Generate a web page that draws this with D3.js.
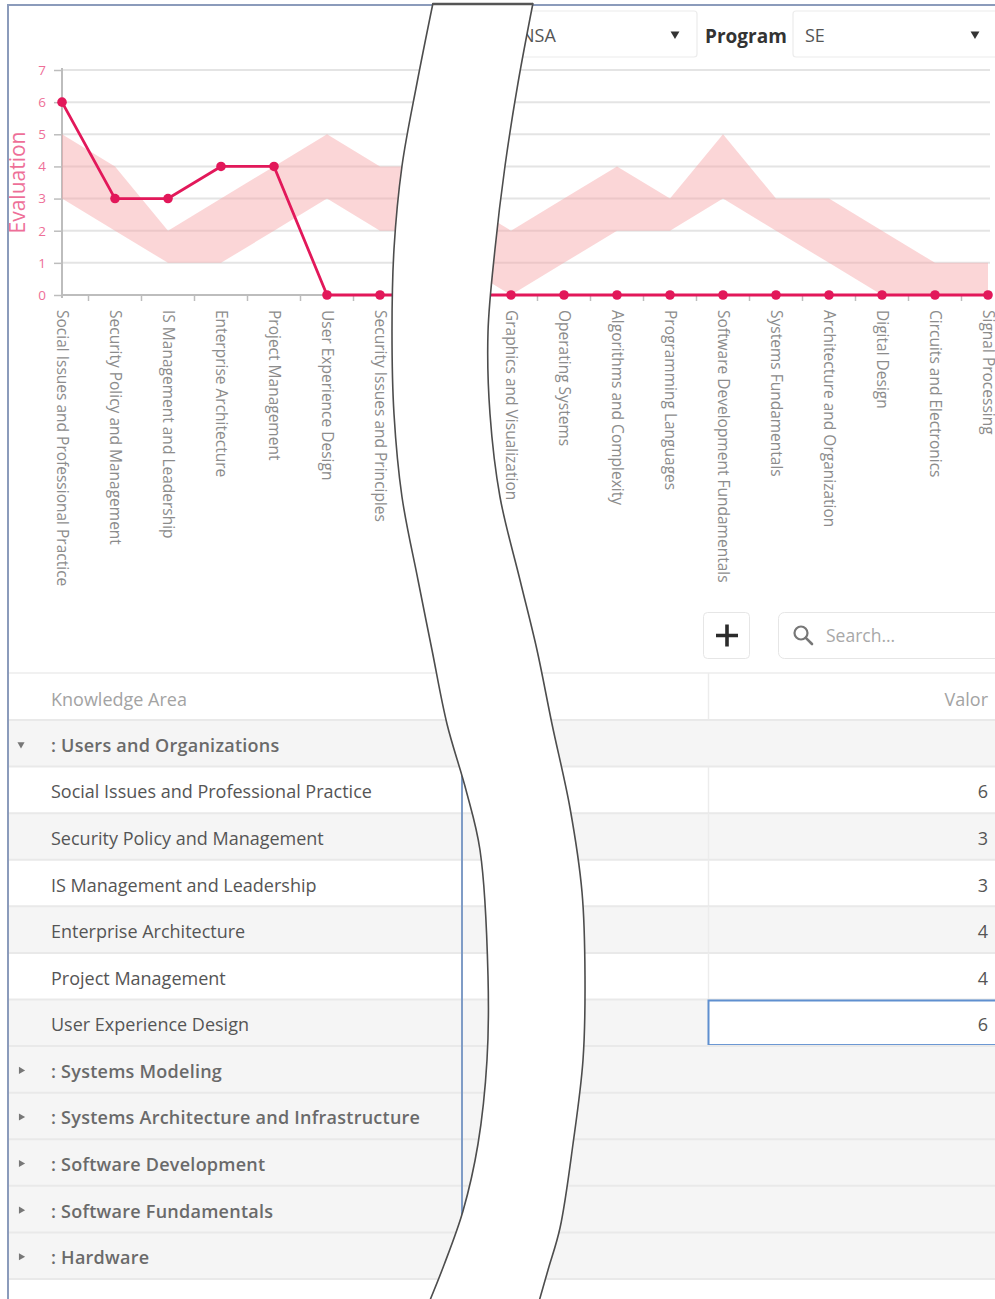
<!DOCTYPE html>
<html>
<head>
<meta charset="utf-8">
<script src="https://cdn.jsdelivr.net/npm/d3@7"></script>
<style>
  html, body { margin: 0; padding: 0; background: #fff; }
  svg { display: block; font-family: "Open Sans", "Noto Sans", sans-serif; }
</style>
</head>
<body>
<svg id="view" width="995" height="1299"></svg>
<script>
// ---- Knowledge areas shown on the left part of the chart ----
const leftAreas = [
  "Social Issues and Professional Practice",
  "Security Policy and Management",
  "IS Management and Leadership",
  "Enterprise Architecture",
  "Project Management",
  "User Experience Design",
  "Security Issues and Principles"
];
const leftEval = [6, 3, 3, 4, 4, 0, 0];
const leftMin  = [3, 2, 1, 1, 2, 3, 2];
const leftMax  = [5, 4, 2, 3, 4, 5, 4];

// ---- Knowledge areas shown on the right part of the chart ----
const rightAreas = [
  "Graphics and Visualization",
  "Operating Systems",
  "Algorithms and Complexity",
  "Programming Languages",
  "Software Development Fundamentals",
  "Systems Fundamentals",
  "Architecture and Organization",
  "Digital Design",
  "Circuits and Electronics",
  "Signal Processing"
];
const rightEval = [0, 0, 0, 0, 0, 0, 0, 0, 0, 0];
const rightMin  = [0, 1, 2, 2, 3, 2, 1, 0, 0, 0];
const rightMax  = [2, 3, 4, 3, 5, 3, 3, 2, 1, 1];

// neighbouring areas that run into the torn edge (only their slope shows)
const leftEdgeMin = 2, leftEdgeMax = 4, leftEdgeEval = 0;
const rightEdgeMin = 1, rightEdgeMax = 3, rightEdgeEval = 0;

const yTicks = [0, 1, 2, 3, 4, 5, 6, 7];

// ---- Grid (tree table) ----
const groupNames = [
  "Users and Organizations",
  "Systems Modeling",
  "Systems Architecture and Infrastructure",
  "Software Development",
  "Software Fundamentals",
  "Hardware"
];
const tableAreas  = leftAreas.slice(0, 6);
const tableValues = [6, 3, 3, 4, 4, 6];

// ---- colours ----
const RED = "#e2185a";
const BAND = "#f6a3a6";
const PINK_TEXT = "#ee6f98";
const GRID = "#e4e4e4";
const AXIS = "#bdbdbd";
const LABEL = "#8c8c8c";

const svg = d3.select("#view");

// ============ chart ============
const y = d3.scaleLinear().domain([0, 7]).range([295, 70]);
const xLeft  = d3.scaleLinear().domain([0, 1]).range([62, 115]);
const xRight = d3.scaleLinear().domain([0, 1]).range([511, 564]);

const chart = svg.append("g");

// horizontal grid lines
chart.append("g")
  .selectAll("line").data(yTicks.filter(t => t > 0)).join("line")
  .attr("x1", 62).attr("x2", xRight(rightAreas.length - 1) + 2)
  .attr("y1", d => y(d)).attr("y2", d => y(d))
  .attr("stroke", GRID).attr("stroke-width", 2);

// y axis
const yAxis = chart.append("g").attr("transform", "translate(62,0)")
  .call(d3.axisLeft(y).tickValues(yTicks).tickFormat(d3.format("d")).tickSize(8).tickPadding(8));
yAxis.select(".domain").attr("stroke", AXIS).attr("stroke-width", 2)
  .attr("d", `M0,${y(7) - 2}V${y(0) + 3}`);
yAxis.selectAll(".tick line").attr("stroke", AXIS).attr("stroke-width", 1.5);
yAxis.selectAll(".tick text").attr("fill", PINK_TEXT)
  .attr("font-size", 13.5).attr("font-family", "Open Sans, sans-serif");

// y title
chart.append("text")
  .attr("transform", `translate(25,${y(3.5)}) rotate(-90)`)
  .attr("text-anchor", "middle")
  .attr("fill", PINK_TEXT).attr("font-size", 21)
  .text("Evaluation");

// x baseline
chart.append("line")
  .attr("x1", 62).attr("x2", xRight(rightAreas.length - 1))
  .attr("y1", y(0)).attr("y2", y(0))
  .attr("stroke", AXIS).attr("stroke-width", 2);

function drawPart(x, areas, evals, mins, maxs, edge) {
  const g = chart.append("g");
  const pts = areas.map((a, i) => ({ i, a, v: evals[i], lo: mins[i], hi: maxs[i] }));
  const full = pts.slice();
  if (edge.side === "after") full.push({ i: areas.length, v: edge.v, lo: edge.lo, hi: edge.hi });
  else full.unshift({ i: -1, v: edge.v, lo: edge.lo, hi: edge.hi });

  // category ticks between areas
  const tickIdx = d3.range(-1, areas.length).map(i => i + 0.5)
    .filter(t => t > 0 || edge.side === "before");
  g.append("g").selectAll("line").data(tickIdx).join("line")
    .attr("x1", d => x(d)).attr("x2", d => x(d))
    .attr("y1", y(0)).attr("y2", y(0) + 6)
    .attr("stroke", AXIS).attr("stroke-width", 1.5);

  // min-max range band
  g.append("path").datum(full)
    .attr("d", d3.area().x(d => x(d.i)).y0(d => y(d.lo)).y1(d => y(d.hi)))
    .attr("fill", BAND).attr("fill-opacity", 0.45);

  // evaluation line
  g.append("path").datum(full)
    .attr("d", d3.line().x(d => x(d.i)).y(d => y(d.v)))
    .attr("fill", "none").attr("stroke", RED).attr("stroke-width", 2.8)
    .attr("stroke-linejoin", "round");

  g.append("g").selectAll("circle").data(pts).join("circle")
    .attr("cx", d => x(d.i)).attr("cy", d => y(d.v)).attr("r", 4.8)
    .attr("fill", RED);

  // rotated category labels
  g.append("g").selectAll("text").data(pts).join("text")
    .attr("transform", d => `translate(${x(d.i)},${y(0) + 15}) rotate(90)`)
    .attr("dy", "0.35em")
    .attr("fill", LABEL).attr("font-size", 15.5)
    .text(d => d.a);
}

drawPart(xLeft, leftAreas, leftEval, leftMin, leftMax,
  { side: "after", v: leftEdgeEval, lo: leftEdgeMin, hi: leftEdgeMax });
drawPart(xRight, rightAreas, rightEval, rightMin, rightMax,
  { side: "before", v: rightEdgeEval, lo: rightEdgeMin, hi: rightEdgeMax });

// ============ filter bar ============
const bar = svg.append("g");
function dropdown(x0, x1, label) {
  bar.append("rect").attr("x", x0).attr("y", 11).attr("width", x1 - x0).attr("height", 46)
    .attr("rx", 3).attr("fill", "#fff").attr("stroke", "#ececec").attr("stroke-width", 1.2);
  bar.append("text").attr("x", label.x).attr("y", 42)
    .attr("fill", "#555").attr("font-size", 18).text(label.t);
  bar.append("path")
    .attr("d", d3.symbol(d3.symbolTriangle, 34)())
    .attr("transform", `translate(${label.arrow},34) rotate(180)`)
    .attr("fill", "#333");
}
dropdown(470, 697, { x: 521, t: "NSA", arrow: 675 });
bar.append("text").attr("x", 705).attr("y", 43)
  .attr("fill", "#333").attr("font-size", 19).attr("font-weight", 700).text("Program");
dropdown(793, 1010, { x: 805, t: "SE", arrow: 975 });

// ============ toolbar ============
const tb = svg.append("g");
tb.append("rect").attr("x", 703.5).attr("y", 612.5).attr("width", 46).attr("height", 46)
  .attr("rx", 4).attr("fill", "#fff").attr("stroke", "#e6e6e6");
tb.append("path").attr("d", "M716,635.5H738M727,624.5V646.5")
  .attr("stroke", "#2b2b2b").attr("stroke-width", 3.6);
tb.append("rect").attr("x", 778.5).attr("y", 612.5).attr("width", 240).attr("height", 46)
  .attr("rx", 6).attr("fill", "#fff").attr("stroke", "#e6e6e6");
tb.append("circle").attr("cx", 801).attr("cy", 633).attr("r", 6.5)
  .attr("fill", "none").attr("stroke", "#777").attr("stroke-width", 2.2);
tb.append("path").attr("d", "M805.8,637.8L812,644").attr("stroke", "#777").attr("stroke-width", 2.6)
  .attr("stroke-linecap", "round");
tb.append("text").attr("x", 826).attr("y", 642).attr("fill", "#a8a8a8").attr("font-size", 17.5)
  .text("Search...");

// ============ tree grid ============
const rows = [{ type: "group", name: groupNames[0], open: true }]
  .concat(tableAreas.map((n, i) => ({ type: "item", name: n, value: tableValues[i], k: i })))
  .concat(groupNames.slice(1).map(n => ({ type: "group", name: n, open: false })));

const rowY = d3.scaleBand().domain(d3.range(rows.length)).range([720, 1279]);
const grid = svg.append("g");
const GX0 = 9, GX1 = 995, DIV = 708.5;
const FS = 18;

// header
grid.append("line").attr("x1", GX0).attr("x2", GX1).attr("y1", 673).attr("y2", 673)
  .attr("stroke", "#ececec").attr("stroke-width", 1.5);
grid.append("line").attr("x1", DIV).attr("x2", DIV).attr("y1", 673).attr("y2", 720)
  .attr("stroke", "#ececec").attr("stroke-width", 1.5);
grid.append("text").attr("x", 51).attr("y", 706).attr("fill", "#a3a3a3").attr("font-size", FS)
  .text("Knowledge Area");
grid.append("text").attr("x", 988).attr("y", 706).attr("text-anchor", "end")
  .attr("fill", "#a3a3a3").attr("font-size", FS).text("Valor");

const rg = grid.selectAll("g.row").data(rows).join("g")
  .attr("transform", (d, i) => `translate(0,${rowY(i)})`);
const h = rowY.bandwidth();

rg.append("rect").attr("x", GX0).attr("width", GX1 - GX0).attr("height", h)
  .attr("fill", d => (d.type === "group" || d.k % 2 === 1) ? "#f5f5f5" : "#fff");
rg.append("line").attr("x1", GX0).attr("x2", GX1).attr("y1", 0).attr("y2", 0)
  .attr("stroke", "#e9e9e9").attr("stroke-width", 2);
rg.filter(d => d.type === "item").append("line")
  .attr("x1", DIV).attr("x2", DIV).attr("y1", 0).attr("y2", h)
  .attr("stroke", "#ececec").attr("stroke-width", 1.5);

// expand / collapse arrows
rg.filter(d => d.type === "group").append("path")
  .attr("d", d3.symbol(d3.symbolTriangle, 22)())
  .attr("transform", d => `translate(21,${h / 2 + 1}) rotate(${d.open ? 180 : 90})`)
  .attr("fill", "#777");

rg.append("text")
  .attr("x", 51).attr("y", h / 2 + 8.5)
  .attr("fill", d => d.type === "group" ? "#6a6a6a" : "#555")
  .attr("font-size", FS)
  .attr("font-weight", d => d.type === "group" ? 600 : 400)
  .attr("letter-spacing", d => d.type === "group" ? 0.25 : 0)
  .text(d => d.type === "group" ? ": " + d.name : d.name);

// value cells (the last one is in edit focus)
const items = rg.filter(d => d.type === "item");
items.filter(d => d.k === tableValues.length - 1).append("rect")
  .attr("x", DIV).attr("y", 1).attr("width", GX1 - DIV + 4).attr("height", h - 2)
  .attr("fill", "#fff").attr("stroke", "#5f8fcf").attr("stroke-width", 2);
items.append("text").attr("x", 988).attr("y", h / 2 + 8.5).attr("text-anchor", "end")
  .attr("fill", "#555").attr("font-size", FS).text(d => d.value);

grid.append("line").attr("x1", GX0).attr("x2", GX1).attr("y1", 1279).attr("y2", 1279)
  .attr("stroke", "#e9e9e9").attr("stroke-width", 2);

// column edge of the left column
grid.append("line").attr("x1", 462).attr("x2", 462).attr("y1", rowY(1)).attr("y2", 1299)
  .attr("stroke", "#7f9cc6").attr("stroke-width", 2);

// ============ frame ============
svg.append("path").attr("d", "M8,1299V5H995")
  .attr("fill", "none").attr("stroke", "#8b9bbb").attr("stroke-width", 2);

// ============ torn strip across the screenshot ============
const leftEdgePts = [[433,3],[417,83],[402,166],[394,249],[392,332],[394,414],[402,497],[418,580],
  [432,650],[447,724],[466,790],[480,850],[488,976],[487,1060],[478,1144],[463,1211],[444,1265],[428,1305]];
const rightEdgePts = [[533,3],[518,83],[505,166],[495,249],[488,332],[490,414],[500,497],[520,580],
  [537,650],[552,724],[570,808],[582,892],[585,976],[583,1060],[573,1144],[560,1228],[548,1270],[538,1305]];
const edge = d3.line().curve(d3.curveCatmullRom.alpha(0.5));
const backRight = edge(rightEdgePts.slice().reverse()).replace(/^M/, "L");
svg.append("path")
  .attr("d", edge(leftEdgePts) + backRight + "Z")
  .attr("fill", "#fff").attr("stroke", "none");
svg.append("path").attr("d", edge(leftEdgePts)).attr("fill", "none")
  .attr("stroke", "#4d4d4d").attr("stroke-width", 1.6);
svg.append("path").attr("d", edge(rightEdgePts)).attr("fill", "none")
  .attr("stroke", "#4d4d4d").attr("stroke-width", 1.6);
svg.append("line").attr("x1", 433).attr("x2", 533).attr("y1", 4).attr("y2", 4)
  .attr("stroke", "#555").attr("stroke-width", 2.5);
</script>
</body>
</html>
